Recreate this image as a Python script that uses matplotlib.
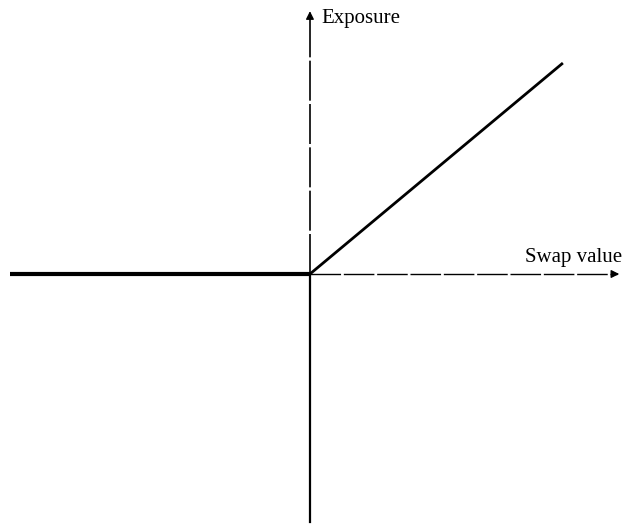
import numpy as np
import matplotlib.pyplot as plt

# exposure = max(swap value, 0)
swap_value = [-1.0, 0.0, 0.843]
exposure = [0.0, 0.0, 0.703]

x_label = "Swap value"
y_label = "Exposure"

fig = plt.figure(figsize=(6.25, 5.27), dpi=100)
ax = fig.add_axes([0, 0, 1, 1])
ax.set_xlim(-1.033, 1.05)
ax.set_ylim(-0.843, 0.913)
ax.axis("off")

# axes through the origin
ax.plot([0, 1.025], [0, 0], color="black", lw=1.0, ls=(0, (22, 2)))
ax.plot([0, 0], [0, 0.86], color="black", lw=1.2, ls=(0, (24, 2)))
ax.plot([0, 0], [-0.827, 0], color="black", lw=1.6)
ax.annotate("", xy=(1.04, 0), xytext=(1.0, 0),
            arrowprops=dict(arrowstyle="-|>", color="black", lw=0.9,
                            mutation_scale=12))
ax.annotate("", xy=(0, 0.885), xytext=(0, 0.845),
            arrowprops=dict(arrowstyle="-|>", color="black", lw=0.9,
                            mutation_scale=12))

# payoff: flat for negative values, linear above zero
ax.plot(swap_value[:2], exposure[:2], color="black", lw=3.0,
        solid_capstyle="butt")
ax.plot(swap_value[1:], exposure[1:], color="black", lw=2.0,
        solid_capstyle="butt")

ax.text(0.037, 0.853, y_label, fontsize=15, family="Liberation Serif",
        va="center", ha="left")
ax.text(1.04, 0.055, x_label, fontsize=15, family="Liberation Serif",
        va="center", ha="right")

fig.savefig("out.png", dpi=100)
